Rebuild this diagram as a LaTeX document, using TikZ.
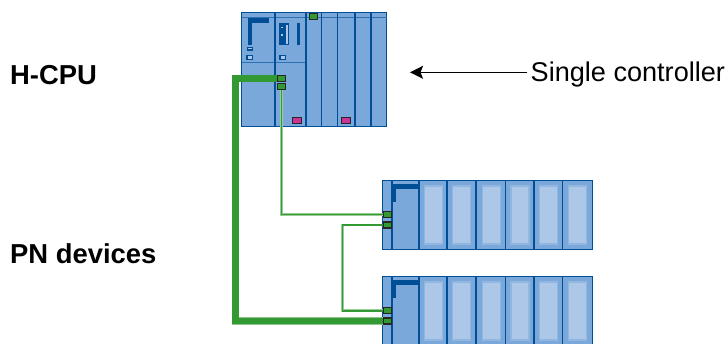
\documentclass[tikz,border=0pt]{standalone}
\usepackage{fontspec}
\setmainfont{Liberation Sans}
\usetikzlibrary{arrows.meta}
\definecolor{rackfill}{HTML}{7BA8DA}
\definecolor{rackdark}{HTML}{004F96}
\definecolor{rackmid}{HTML}{2F72B4}
\definecolor{panelfill}{HTML}{ADC7E8}
\definecolor{netgreen}{HTML}{339933}
\definecolor{portgreen}{HTML}{339933}
\definecolor{portpink}{HTML}{CC3399}
\tikzset{
  x=1pt,y=-1pt,
  rack/.style={fill=rackfill,draw=rackdark,line width=1.6pt},
  divider/.style={draw=rackdark,line width=1.7pt},
  panel/.style={fill=panelfill,draw=rackfill!55!panelfill,line width=1.2pt},
  portbase/.style={draw=black!85,line width=1.1pt,inner sep=0pt,minimum width=8.8pt,minimum height=6pt},
  port/.style={portbase,fill=portgreen},
  pinkport/.style={portbase,fill=portpink},
  icon/.style={fill=rackdark},
  smallicon/.style={fill=panelfill,draw=rackdark,line width=1.1pt},
  thinnet/.style={draw=netgreen,line width=1.7pt,preaction={draw=netgreen!50,line width=2.6pt}},
  thicknet/.style={draw=netgreen,line width=6.6pt,line join=miter,preaction={draw=netgreen!55,line width=7.4pt}},
  lbl/.style={inner sep=0pt,anchor=base west,font=\fontsize{27.1}{30}\selectfont},
  lblb/.style={inner sep=0pt,anchor=base west,font=\fontsize{27.4}{30}\selectfont\bfseries},
}
\newcommand{\devrack}[2]{%
  \fill[rackfill] (382.5,#1) rectangle (592.5,#2);
  \foreach \a/\b in {424.5/442.5,452.5/470.5,482.5/500.5,511/529,539.5/557.5,568.5/586.5}
    \filldraw[panel] (\a,#1+5.5) rectangle (\b,#1+63.5);
  \foreach \d in {392,419,447,476,505.5,534,562.5}
    \draw[divider] (\d,#1) -- (\d,#2);
  \fill[icon] (392,#1+3) rectangle (419,#1+8.5);
  \fill[icon] (392,#1+3) rectangle (395.8,#1+21.5);
}
\begin{document}
\begin{tikzpicture}
\useasboundingbox (0,0) rectangle (728,343);
% H-CPU rack
\filldraw[rack] (241.5,12.5) rectangle (386.5,126.5);
\draw[draw=rackmid,line width=1.1pt] (241.5,17.5) -- (386.5,17.5);
\draw[draw=rackmid,line width=1.1pt] (241.5,62.5) -- (306,62.5);
\foreach \d in {275,306,321.5,337.5,355,371}
  \draw[divider] (\d,12.5) -- (\d,126.5);
\fill[icon] (248,18) rectangle (268.7,22.7);
\fill[icon] (248,18) rectangle (251.7,45);
\filldraw[smallicon] (247.3,47.3) rectangle (252.2,50);
\filldraw[smallicon] (247,55.8) rectangle (252.6,59.7);
\fill[icon] (279.3,22.7) rectangle (289.3,45.3);
\fill[panelfill] (286,24.5) rectangle (288,43.5);
\fill[panelfill] (281,27) rectangle (283,28);
\fill[panelfill] (281,34) rectangle (283,35.5);
\fill[icon] (296.7,22.7) rectangle (300.3,45.3);
\filldraw[smallicon] (280,55.8) rectangle (285.6,59.7);
% modules and ports
\node[port] (top) at (313.5,16.5) {};
\node[port] (c1) at (281.5,78.5) {};
\node[port] (c2) at (281.5,86.3) {};
\node[pinkport] (p1) at (297,120.5) {};
\node[pinkport] (p2) at (346,120.5) {};
\devrack{180.5}{249.5}
\draw[rackdark,line width=1.6pt] (382.5,180.5) rectangle (592.5,249.5);
\devrack{276.5}{344}
\draw[rackdark,line width=1.6pt] (382.5,344) -- (382.5,276.5) -- (592.5,276.5) -- (592.5,344);
\node[port] (a1) at (387.5,214.5) {};
\node[port] (a2) at (387.5,225) {};
\node[port] (b1) at (387.5,310.7) {};
\node[port] (b2) at (387.5,321) {};
\coordinate (t1) at (235.5,78.5);
\coordinate (t2) at (235.5,321);
\coordinate (n1) at (281.5,214.5);
\coordinate (n2) at (342.5,225);
\coordinate (n3) at (342.5,310.7);
\draw[thicknet] (c1.west) -- (t1) -- (t2) -- (b2.west);
\draw[thinnet] (c2.south) -- (n1) -- (a1.west);
\draw[thinnet] (a2.west) -- (n2) -- (n3) -- (b1.west);
% labels
\node[lblb] (h) at (10,84.3) {H-CPU};
\node[lblb] (pn) at (10,263.3) {PN devices};
\node[lbl] (sc) at (530.5,81) {Single controller};
\coordinate (tip) at (410,72.3);
\coordinate (tail) at (527,72.3);
\draw[-{Stealth[length=13pt,width=13pt,inset=2.5pt]},line width=1.5pt] (tail) -- (tip);
\end{tikzpicture}
\end{document}
